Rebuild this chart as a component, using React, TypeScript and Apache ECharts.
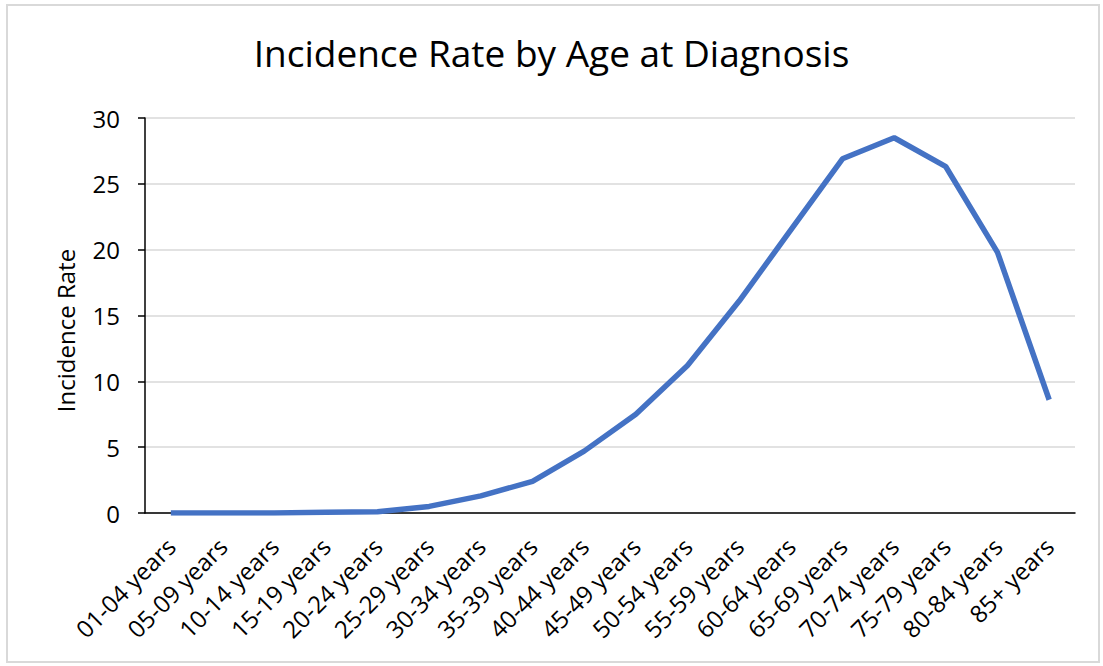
import React, { useEffect, useRef } from "react";
import * as echarts from "echarts";

const categories = [
  "01-04 years", "05-09 years", "10-14 years", "15-19 years", "20-24 years",
  "25-29 years", "30-34 years", "35-39 years", "40-44 years", "45-49 years",
  "50-54 years", "55-59 years", "60-64 years", "65-69 years", "70-74 years",
  "75-79 years", "80-84 years", "85+ years",
];
const incidenceRate = [
  0.0, 0.0, 0.0, 0.05, 0.1, 0.5, 1.3, 2.4, 4.7, 7.5, 11.2, 16.1, 21.5, 26.9,
  28.5, 26.3, 19.8, 8.6,
];
const yTicks = { min: 0, max: 30, interval: 5 };

const FONT = "'Open Sans', 'Noto Sans', sans-serif";

export default function App() {
  const ref = useRef<HTMLDivElement>(null);
  useEffect(() => {
    if (!ref.current) return;
    const chart = echarts.init(ref.current, null, { renderer: "svg" });
    chart.setOption({
      animation: false,
      backgroundColor: "#ffffff",
      title: {
        text: "Incidence Rate by Age at Diagnosis",
        left: "center",
        top: 29,
        textStyle: { fontFamily: FONT, fontSize: 37, fontWeight: "normal", color: "#000" },
      },
      graphic: [
        {
          type: "rect",
          shape: { x: 7, y: 5, width: 1092, height: 657 },
          style: { fill: "none", stroke: "#d9d9d9", lineWidth: 2 },
          silent: true,
        },
      ],
      grid: { left: 145, right: 28, top: 118, bottom: 153 },
      xAxis: {
        type: "category",
        data: categories,
        boundaryGap: true,
        axisLine: { lineStyle: { color: "#000", width: 1.5 } },
        axisTick: { show: false },
        axisLabel: {
          rotate: 45,
          interval: 0,
          margin: 29,
          fontFamily: FONT,
          fontSize: 24,
          color: "#000",
        },
      },
      yAxis: {
        type: "value",
        min: yTicks.min,
        max: yTicks.max,
        interval: yTicks.interval,
        name: "Incidence Rate",
        nameLocation: "middle",
        nameGap: 68,
        nameRotate: 90,
        nameTextStyle: { fontFamily: FONT, fontSize: 24, color: "#000", padding: [0, 30, 0, 0] },
        axisLine: { show: true, lineStyle: { color: "#000", width: 1.5 } },
        axisTick: { show: true, length: 7, lineStyle: { color: "#000", width: 1.5 } },
        axisLabel: { fontFamily: FONT, fontSize: 24, color: "#000", margin: 25 },
        splitLine: { lineStyle: { color: "#d9d9d9", width: 1.5 } },
      },
      series: [
        {
          type: "line",
          data: incidenceRate,
          symbol: "none",
          lineStyle: { color: "#4472C4", width: 5.5 },
          itemStyle: { color: "#4472C4" },
        },
      ],
    });
    return () => chart.dispose();
  }, []);
  return (
    <div
      ref={ref}
      style={{ position: "fixed", left: 0, top: 0, width: 1103, height: 666 }}
    />
  );
}
